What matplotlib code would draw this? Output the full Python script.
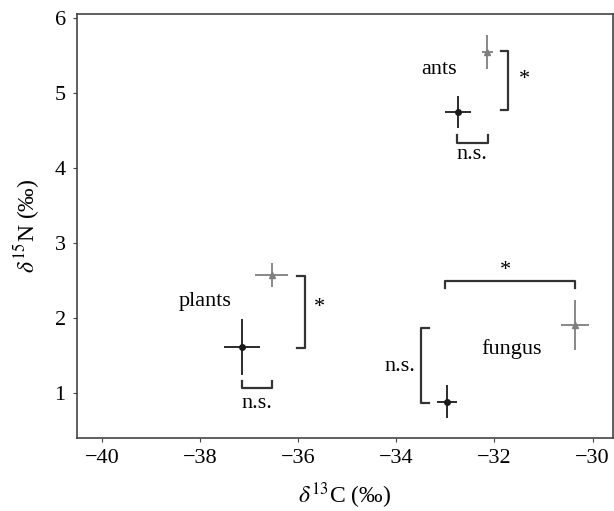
import matplotlib.pyplot as plt

plt.rcParams['font.family'] = ['Liberation Serif', 'DejaVu Serif']
plt.rcParams['mathtext.fontset'] = 'stix'

# medias y errores (black = circulo, gray = triangulo)
grupos = ['plants', 'ants', 'fungus']
c_circ = [-37.14, -32.74, -32.97]
n_circ = [1.62, 4.75, 0.89]
c_circ_err = [0.37, 0.26, 0.20]
n_circ_err = [0.37, 0.215, 0.22]

c_tri = [-36.54, -32.15, -30.36]
n_tri = [2.58, 5.55, 1.91]
c_tri_err = [0.33, 0.11, 0.29]
n_tri_err = [0.16, 0.23, 0.33]

etiqueta_x = [-37.9, -33.12, -31.65]
etiqueta_y = [2.22, 5.31, 1.59]

fig = plt.figure(figsize=(6.14, 5.11), dpi=100)
ax = fig.add_axes([0.125, 0.1434, 0.873, 0.8286])

ax.errorbar(c_circ, n_circ, xerr=c_circ_err, yerr=n_circ_err, fmt='o', color='#1a1a1a',
            ms=4, elinewidth=1.3, capsize=0, zorder=3)
ax.errorbar(c_tri, n_tri, xerr=c_tri_err, yerr=n_tri_err, fmt='^', color='#7f7f7f',
            ms=4, elinewidth=1.3, capsize=0, zorder=3)

fs = 16
for i in range(len(grupos)):
    ax.text(etiqueta_x[i], etiqueta_y[i], grupos[i], fontsize=fs, ha='center', va='center')

col = '#333333'
lw = 1.6
# plants
ax.plot([-36.02, -35.87, -35.87, -36.02], [2.56, 2.56, 1.61, 1.61], color=col, lw=lw)
ax.text(-35.57, 2.15, '*', fontsize=fs, ha='center', va='center')
ax.plot([-37.14, -37.14, -36.53, -36.53], [1.16, 1.07, 1.07, 1.16], color=col, lw=lw)
ax.text(-36.83, 0.86, 'n.s.', fontsize=fs, ha='center', va='center')
# ants
ax.plot([-31.87, -31.72, -31.72, -31.87], [5.56, 5.56, 4.77, 4.77], color=col, lw=lw)
ax.text(-31.38, 5.18, '*', fontsize=fs, ha='center', va='center')
ax.plot([-32.76, -32.76, -32.13, -32.13], [4.44, 4.34, 4.34, 4.44], color=col, lw=lw)
ax.text(-32.45, 4.18, 'n.s.', fontsize=fs, ha='center', va='center')
# fungus
ax.plot([-33.0, -33.0, -30.35, -30.35], [2.41, 2.50, 2.50, 2.41], color=col, lw=lw)
ax.text(-31.77, 2.64, '*', fontsize=fs, ha='center', va='center')
ax.plot([-33.33, -33.5, -33.5, -33.33], [1.87, 1.87, 0.87, 0.87], color=col, lw=lw)
ax.text(-33.92, 1.36, 'n.s.', fontsize=fs, ha='center', va='center')

ax.set_xlim(-40.51, -29.59)
ax.set_ylim(0.41, 6.05)
ax.set_xticks([-40, -38, -36, -34, -32, -30])
ax.set_yticks([1, 2, 3, 4, 5, 6])
ax.tick_params(labelsize=16, length=3, color='#444444', pad=5)
for s in ax.spines.values():
    s.set_color('#444444')
    s.set_linewidth(1.2)

ax.set_xlabel(r'$\delta^{13}$C (‰)', fontsize=17, labelpad=9)
ax.set_ylabel(r'$\delta^{15}$N (‰)', fontsize=17, labelpad=9)

plt.savefig('out.png', dpi=100)
